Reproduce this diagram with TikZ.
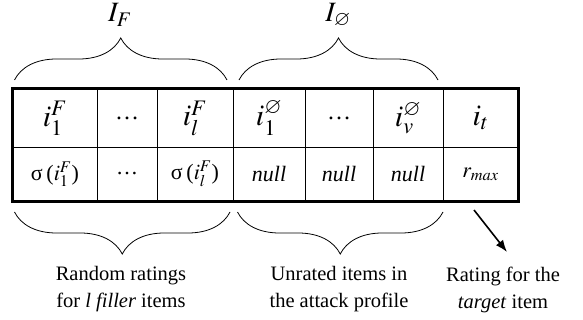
\documentclass[tikz,border=0pt]{standalone}
\usepackage{mathptmx}
\usepackage{amssymb}
\usepackage{fontspec}
\setmainfont{Liberation Serif}
\usetikzlibrary{decorations.pathreplacing,arrows.meta}

\tikzset{
  cellbox/.style={draw,line width=0.8pt,inner sep=0pt,anchor=center},
  toprow/.style={cellbox,minimum height=58pt,font=\fontsize{30}{32}\selectfont},
  botrow/.style={cellbox,minimum height=54pt,font=\fontsize{22}{24}\selectfont},
  nullcell/.style={botrow,font=\fontsize{22}{24}\selectfont\itshape},
  bigbrace/.style={decorate,decoration={brace,amplitude=42pt},line width=0.8pt},
  notetext/.style={align=center,font=\fontsize{20.5}{27}\selectfont}
}

\begin{document}
\begin{tikzpicture}[x=1pt,y=-1pt,>=latex]
  \useasboundingbox (0,0) rectangle (583,320);
  % item row
  \node[toprow,minimum width=84pt] (a1) at (55,118) {$i_1^F$};
  \node[toprow,minimum width=60pt] (b1) at (127,118) {\fontsize{24}{26}\selectfont\ldots};
  \node[toprow,minimum width=76pt] (c1) at (195,118) {$i_l^F$};
  \node[toprow,minimum width=72pt] (d1) at (269,118) {$i_1^{\varnothing}$};
  \node[toprow,minimum width=68pt] (e1) at (339,118) {\fontsize{24}{26}\selectfont\ldots};
  \node[toprow,minimum width=70pt] (f1) at (408,118) {$i_v^{\varnothing}$};
  \node[toprow,minimum width=75pt] (g1) at (480.5,118) {$i_t$};
  % rating row
  \node[botrow,minimum width=84pt] (a2) at (55,174) {σ\,($i_1^F$)};
  \node[botrow,minimum width=60pt] (b2) at (127,174) {\ldots};
  \node[botrow,minimum width=76pt] (c2) at (195,174) {σ\,($i_l^F$)};
  \node[nullcell,minimum width=72pt] (d2) at (269,174) {null};
  \node[nullcell,minimum width=68pt] (e2) at (339,174) {null};
  \node[nullcell,minimum width=70pt] (f2) at (408,174) {null};
  \node[botrow,minimum width=75pt] (g2) at (480.5,174) {$r_{\mathit{max}}$};
  \draw[line width=2.6pt] (a1.north west) rectangle (g2.south east);

  % braces above
  \coordinate (tfl) at (14.5,80);
  \coordinate (tfr) at (227,80);
  \coordinate (tnl) at (239,80);
  \coordinate (tnr) at (438,80);
  \draw[bigbrace] (tfl) -- (tfr);
  \draw[bigbrace] (tnl) -- (tnr);
  \node[font=\fontsize{28}{30}\selectfont] (lf) at (120,15) {$I_F$};
  \node[font=\fontsize{28}{30}\selectfont] (ln) at (338,15) {$I_{\varnothing}$};

  % braces below
  \coordinate (bfl) at (14.5,212);
  \coordinate (bfr) at (230,212);
  \coordinate (bnl) at (237.5,212);
  \coordinate (bnr) at (443,212);
  \draw[bigbrace] (bfr) -- (bfl);
  \draw[bigbrace] (bnr) -- (bnl);
  \node[notetext] (nf) at (121,289) {Random ratings\\for \textit{l filler} items};
  \node[notetext] (nn) at (339,289) {Unrated items in\\the attack profile};
  \node[notetext] (nt) at (503,290) {Rating for the\\\textit{target} item};

  % target arrow
  \coordinate (ts) at (474,210);
  \coordinate (te) at (507,252);
  \draw[-{Latex[length=12pt,width=9pt]},line width=1.6pt] (ts) -- (te);
\end{tikzpicture}
\end{document}
